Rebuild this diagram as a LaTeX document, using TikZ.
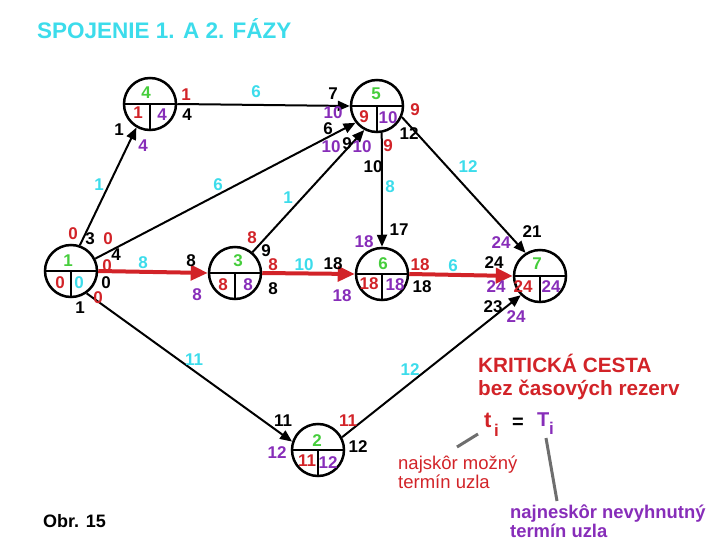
\documentclass[tikz,border=0pt]{standalone}
\usepackage{fontspec}
\setmainfont{Liberation Sans}
\usetikzlibrary{arrows.meta}
\definecolor{cgreen}{RGB}{70,205,60}
\definecolor{cred}{RGB}{210,35,40}
\definecolor{cpurple}{RGB}{135,45,185}
\definecolor{ccyan}{RGB}{60,220,235}
\definecolor{cgray}{RGB}{110,110,110}
\newcommand\lblfont{\fontsize{17}{17}\selectfont\bfseries}
\newcommand\lb[5]{\node[lbl,text=#4] (#1) at (#2,#3) {#5};}
\tikzset{
  lbl/.style={font=\lblfont, inner sep=0pt},
  event/.style={circle, draw, line width=2.5pt, minimum size=52pt, inner sep=0pt},
  divider/.style={line width=2.2pt},
  act/.style={line width=2pt, -{Triangle[length=12pt,width=10pt]}},
  crit/.style={line width=4pt, cred, -{Triangle[length=17pt,width=15pt]}},
  pointer/.style={line width=3pt, cgray},
}
\begin{document}
\begin{tikzpicture}[x=1pt,y=-1pt]
\useasboundingbox (0,0) rectangle (720,540);

% events
\node[event] (n1) at (71,271) {};
\node[event] (n4) at (150,104) {};
\node[event] (n5) at (377,106) {};
\node[event] (n3) at (235,273) {};
\node[event] (n6) at (382,274) {};
\node[event] (n7) at (540,276) {};
\node[event] (n2) at (318,450) {};
\foreach \n in {n1,n2,n3,n4,n5,n6,n7}{
  \draw[divider] (\n.west) -- (\n.east);
  \draw[divider] (\n.center) -- (\n.south);
}

% activities
\draw[act] (n1.71) -- (n4.240);
\draw[act] (n1.27) -- (n5.218);
\draw[act] (n3.50) -- (n5.242);
\draw[act] (n4.east) -- (n5.west);
\draw[act] (n5.280) -- (n6.north);
\draw[act] (n5.336) -- (n7.122);
\draw[act] (n1.305) -- (n2.162);
\draw[act] (n2.28) -- (n7.225);
\draw[crit] (n1.east) -- (n3.west);
\draw[crit] (n3.east) -- (n6.west);
\draw[crit] (n6.east) -- (n7.west);

% node 1
\lb{a1}{68}{261}{cgreen}{1}
\lb{a2}{60}{283}{cred}{0}
\lb{a3}{79}{283}{ccyan}{0}
\lb{a4}{73}{234}{cred}{0}
\lb{a5}{90}{239}{black}{3}
\lb{a6}{108}{239}{cred}{0}
\lb{a7}{116}{255}{black}{4}
\lb{a8}{107}{266}{cred}{0}
\lb{a9}{106}{283}{black}{0}
\lb{a10}{98}{298}{cred}{0}
\lb{a11}{80}{308}{black}{1}
% edge 1-4 and node 4
\lb{b1}{99}{185}{ccyan}{1}
\lb{b2}{119}{130}{black}{1}
\lb{b3}{143}{146}{cpurple}{4}
\lb{b4}{146}{93}{cgreen}{4}
\lb{b5}{138}{113}{cred}{1}
\lb{b6}{162}{115}{cpurple}{4}
\lb{b7}{186}{95}{cred}{1}
\lb{b8}{187}{115}{black}{4}
% edges into 5
\lb{c1}{256}{92}{ccyan}{6}
\lb{c2}{333}{94}{black}{7}
\lb{c3}{333}{113}{cpurple}{10}
\lb{c4}{218}{185}{ccyan}{6}
\lb{c5}{328}{129}{black}{6}
\lb{c6}{331}{147}{cpurple}{10}
\lb{c7}{288}{198}{ccyan}{1}
\lb{c8}{347}{144}{black}{9}
\lb{c9}{362}{147}{cpurple}{10}
% node 5
\lb{d1}{376}{94}{cgreen}{5}
\lb{d2}{364}{117}{cred}{9}
\lb{d3}{388}{118}{cpurple}{10}
\lb{d4}{388}{146}{cred}{9}
\lb{d5}{373}{167}{black}{10}
\lb{d6}{415}{110}{cred}{9}
\lb{d7}{409}{134}{black}{12}
\lb{d8}{390}{187}{ccyan}{8}
\lb{d9}{468}{167}{ccyan}{12}
% node 3
\lb{e1}{238}{261}{cgreen}{3}
\lb{e2}{223}{285}{cred}{8}
\lb{e3}{248}{285}{cpurple}{8}
\lb{e4}{252}{238}{cred}{8}
\lb{e5}{266}{251}{black}{9}
\lb{e6}{273}{265}{cred}{8}
\lb{e7}{273}{289}{black}{8}
\lb{e8}{143}{263}{ccyan}{8}
\lb{e9}{191}{261}{black}{8}
\lb{e10}{197}{295}{cpurple}{8}
% node 6
\lb{f1}{304}{265}{ccyan}{10}
\lb{f2}{333}{264}{black}{18}
\lb{f3}{342}{296}{cpurple}{18}
\lb{f4}{383}{264}{cgreen}{6}
\lb{f5}{369}{284}{cred}{18}
\lb{f6}{395}{285}{cpurple}{18}
\lb{f7}{364}{242}{cpurple}{18}
\lb{f8}{399}{230}{black}{17}
\lb{f9}{420}{265}{cred}{18}
\lb{f10}{422}{287}{black}{18}
% node 7
\lb{g1}{453}{266}{ccyan}{6}
\lb{g2}{494}{263}{black}{24}
\lb{g3}{496}{287}{cpurple}{24}
\lb{g4}{537}{264}{cgreen}{7}
\lb{g5}{523}{287}{cred}{24}
\lb{g6}{551}{287}{cpurple}{24}
\lb{g7}{501}{243}{cpurple}{24}
\lb{g8}{532}{232}{black}{21}
\lb{g9}{493}{307}{black}{23}
\lb{g10}{516}{317}{cpurple}{24}
% node 2
\lb{h1}{194}{360}{ccyan}{11}
\lb{h2}{317}{441}{cgreen}{2}
\lb{h3}{307}{461}{cred}{11}
\lb{h4}{328}{463}{cpurple}{12}
\lb{h5}{283}{421}{black}{11}
\lb{h6}{277}{453}{cpurple}{12}
\lb{h7}{348}{421}{cred}{11}
\lb{h8}{358}{447}{black}{12}
\lb{h9}{410}{370}{ccyan}{12}

% title and caption
\node[anchor=base west, inner sep=0pt, text=ccyan, font=\fontsize{22.5}{22.5}\selectfont\bfseries] (title) at (37,39) {SPOJENIE 1. A 2. FÁZY};
\node[anchor=base west, inner sep=0pt, font=\fontsize{18}{18}\selectfont\bfseries] (obr) at (43,527) {Obr. 15};

% legend
\node[anchor=base west, inner sep=0pt, text=cred, font=\fontsize{20.7}{20.7}\selectfont\bfseries] (k1) at (478,372) {KRITICKÁ CESTA};
\node[anchor=base west, inner sep=0pt, text=cred, font=\fontsize{20.7}{20.7}\selectfont\bfseries] (k2) at (478,395) {bez časových rezerv};
\node[anchor=base west, inner sep=0pt, text=cred, font=\fontsize{22}{22}\selectfont\bfseries] (tt) at (484,427) {t};
\node[anchor=base west, inner sep=0pt, text=cred, font=\fontsize{17}{17}\selectfont\bfseries] (ti) at (494,436) {i};
\node[inner sep=0pt, font=\fontsize{20}{20}\selectfont\bfseries] (eq) at (518,423) {=};
\node[anchor=base west, inner sep=0pt, text=cpurple, font=\fontsize{20}{20}\selectfont\bfseries] (TT) at (537,426) {T};
\node[anchor=base west, inner sep=0pt, text=cpurple, font=\fontsize{17}{17}\selectfont\bfseries] (Ti) at (549,434) {i};
\node[anchor=base west, inner sep=0pt, text=cred, font=\fontsize{18.5}{18.5}\selectfont] (m1) at (398,469) {najskôr možný};
\node[anchor=base west, inner sep=0pt, text=cred, font=\fontsize{18.5}{18.5}\selectfont] (m2) at (398,488) {termín uzla};
\node[anchor=base west, inner sep=0pt, text=cpurple, font=\fontsize{18.4}{18.4}\selectfont\bfseries] (p1) at (510,518) {najneskôr nevyhnutný};
\node[anchor=base west, inner sep=0pt, text=cpurple, font=\fontsize{18.4}{18.4}\selectfont\bfseries] (p2) at (510,537) {termín uzla};
\coordinate (q1) at (478,434);
\coordinate (q2) at (457,447);
\coordinate (q3) at (546,438);
\coordinate (q4) at (557,501);
\draw[pointer] (q1) -- (q2);
\draw[pointer] (q3) -- (q4);
\end{tikzpicture}
\end{document}
